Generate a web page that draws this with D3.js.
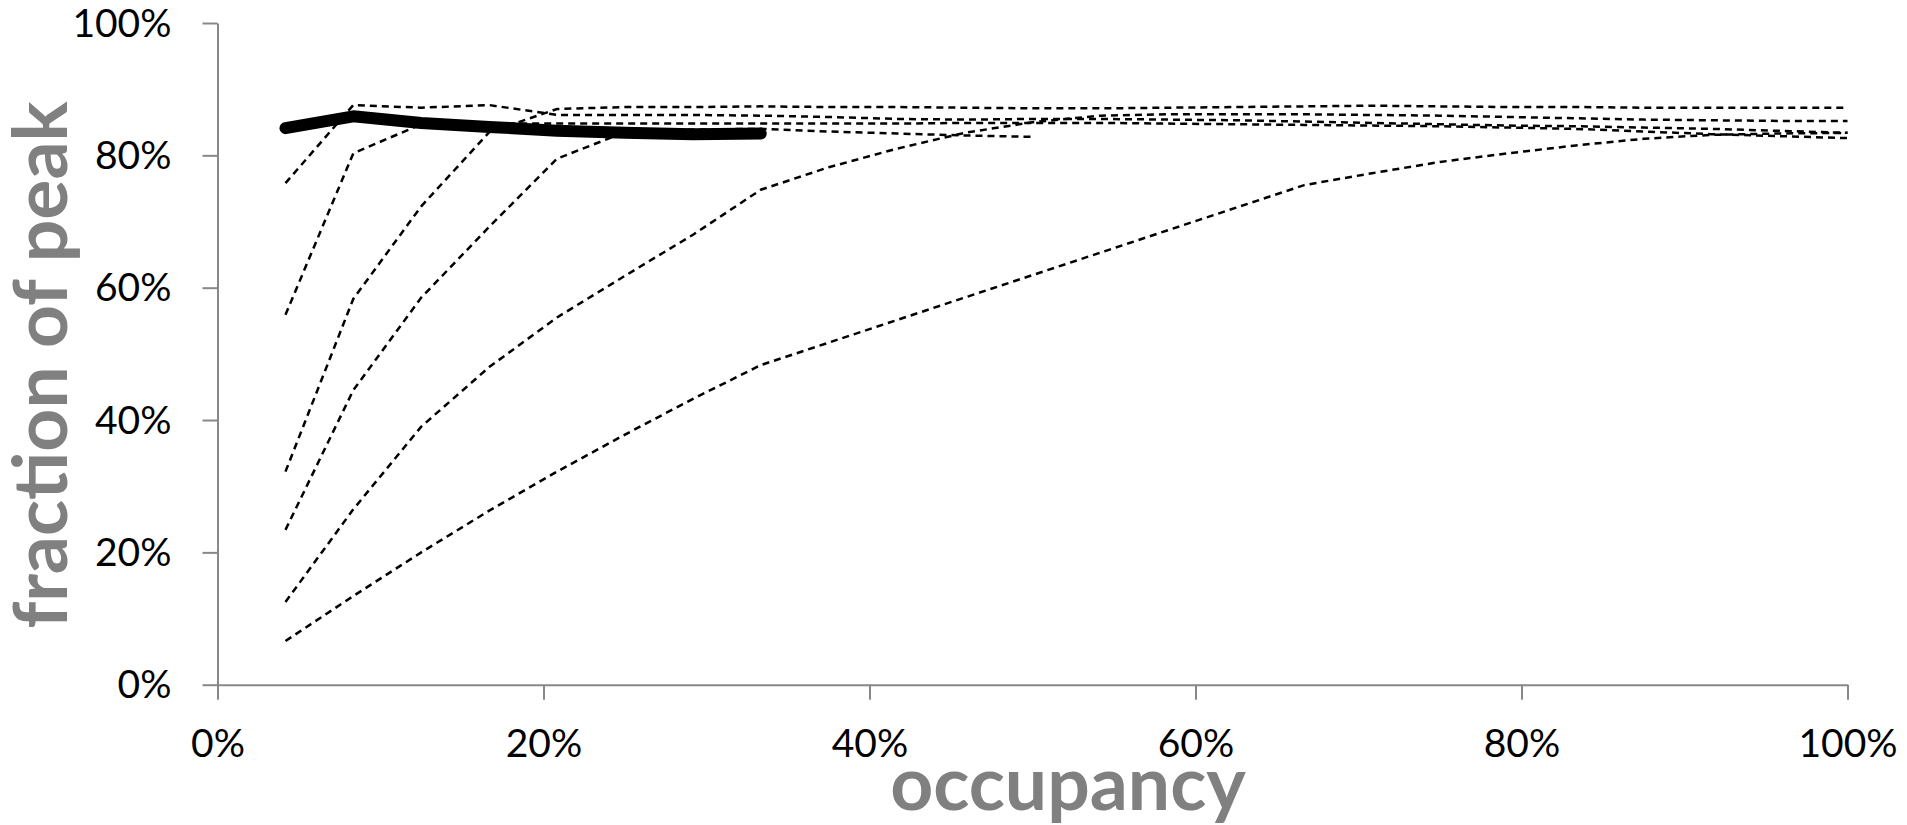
<!DOCTYPE html>
<html>
<head>
<meta charset="utf-8">
<script src="https://cdn.jsdelivr.net/npm/d3@7"></script>
<style>
  html, body { margin: 0; padding: 0; background: #fff; }
  svg { display: block; }
</style>
</head>
<body>
<div id="chart"></div>
<script>
// ---- data (percent) ----
const occupancy = [4.17, 8.33, 12.5, 16.67, 20.83, 25, 29.17, 33.33, 37.5, 41.67, 45.83, 50,
                   54.17, 58.33, 62.5, 66.67, 70.83, 75, 79.17, 83.33, 87.5, 91.67, 95.83, 100];

const seriesA = [75.8, 87.6, 87.2, 87.6, 86.1, 86.1, 86.1, 86.0, 85.8, 85.5, 85.4, 85.5,
                 85.5, 85.4, 85.3, 85.1, 84.9, 84.7, 84.5, 84.4, 84.2, 84.0, 83.7, 83.4];
const seriesB = [55.9, 80.3, 84.7, 84.8, 84.8, 84.8, 84.8, 84.8, 84.8, 84.8, 84.9, 84.9,
                 84.9, 84.8, 84.7, 84.6, 84.5, 84.4, 84.2, 84.0, 83.6, 83.2, 82.9, 82.6];
const seriesC = [32.2, 58.3, 72.3, 83.5, 87.0, 87.3, 87.3, 87.4, 87.3, 87.3, 87.2, 87.1,
                 87.1, 87.2, 87.3, 87.4, 87.5, 87.4, 87.3, 87.3, 87.2, 87.2, 87.2, 87.2];
const seriesD = [23.4, 44.5, 58.5, 69.2, 79.5, 83.5, 83.9, 84.0, 83.6, 83.3, 83.0, 82.8];
const seriesE = [12.5, 26.5, 39.0, 48.0, 55.5, 61.8, 68.0, 74.8, 78.2, 81.0, 83.4, 85.0,
                 86.0, 86.2, 86.2, 86.2, 86.1, 86.0, 85.8, 85.6, 85.4, 85.3, 85.2, 85.2];
const seriesF = [6.6, 13.4, 20.0, 26.3, 32.2, 37.8, 43.2, 48.3, 51.7, 55.1, 58.5, 61.9,
                 65.3, 68.7, 72.1, 75.5, 77.3, 79.0, 80.3, 81.5, 82.5, 83.1, 83.3, 83.4];
const seriesThick = [84.1, 85.9, 84.9, 84.3, 83.7, 83.4, 83.2, 83.3];

const xTicks = [0, 20, 40, 60, 80, 100];
const yTicks = [0, 20, 40, 60, 80, 100];
const xTitle = "occupancy";
const yTitle = "fraction of peak";

// ---- layout ----
const W = 1907, H = 825;
const mLeft = 217.5, mRight = 1847.5, mTop = 23, mBottom = 684.7;
const axisColor = "#888888";
const titleColor = "#808080";

const svg = d3.select("#chart").append("svg")
  .attr("width", W).attr("height", H);

const x = d3.scaleLinear().domain([0, 100]).range([mLeft, mRight]);
const y = d3.scaleLinear().domain([0, 100]).range([mBottom, mTop]);

// axes
const xAxis = d3.axisBottom(x).tickValues(xTicks).tickSize(15).tickSizeOuter(0).tickFormat(d => d + "%");
const yAxis = d3.axisLeft(y).tickValues(yTicks).tickSize(15).tickSizeOuter(0).tickFormat(d => d + "%");

const gx = svg.append("g").attr("transform", `translate(0,${mBottom})`).call(xAxis);
const gy = svg.append("g").attr("transform", `translate(${mLeft},0)`).call(yAxis);

[gx, gy].forEach(g => {
  g.select(".domain").attr("stroke", axisColor).attr("stroke-width", 2);
  g.selectAll(".tick line").attr("stroke", axisColor).attr("stroke-width", 2);
  g.selectAll(".tick text")
    .attr("fill", "#000")
    .style("font-family", "Lato, 'Open Sans', sans-serif")
    .style("font-size", "39px");
});
gx.selectAll(".tick text").attr("y", 72).attr("dy", 0);
gy.selectAll(".tick text").attr("x", -46).attr("dy", 13);

// lines
const line = d3.line()
  .x((d, i) => x(occupancy[i]))
  .y(d => y(d));

const dashed = [seriesA, seriesB, seriesC, seriesD, seriesE, seriesF];
svg.append("g").selectAll("path").data(dashed).join("path")
  .attr("d", d => line(d))
  .attr("fill", "none")
  .attr("stroke", "#000")
  .attr("stroke-width", 2.5)
  .attr("stroke-dasharray", "7,5");

svg.append("path")
  .attr("d", line(seriesThick))
  .attr("fill", "none")
  .attr("stroke", "#000")
  .attr("stroke-width", 12)
  .attr("stroke-linecap", "round")
  .attr("stroke-linejoin", "round");

// titles
svg.append("text")
  .attr("x", 1068).attr("y", 810)
  .attr("text-anchor", "middle")
  .attr("fill", titleColor)
  .style("font-family", "Lato, 'Open Sans', sans-serif")
  .style("font-weight", "bold")
  .style("font-size", "75px")
  .text(xTitle);

svg.append("text")
  .attr("transform", "translate(67,365) rotate(-90)")
  .attr("text-anchor", "middle")
  .attr("fill", titleColor)
  .style("font-family", "Lato, 'Open Sans', sans-serif")
  .style("font-weight", "bold")
  .style("font-size", "75px")
  .text(yTitle);
</script>
</body>
</html>
